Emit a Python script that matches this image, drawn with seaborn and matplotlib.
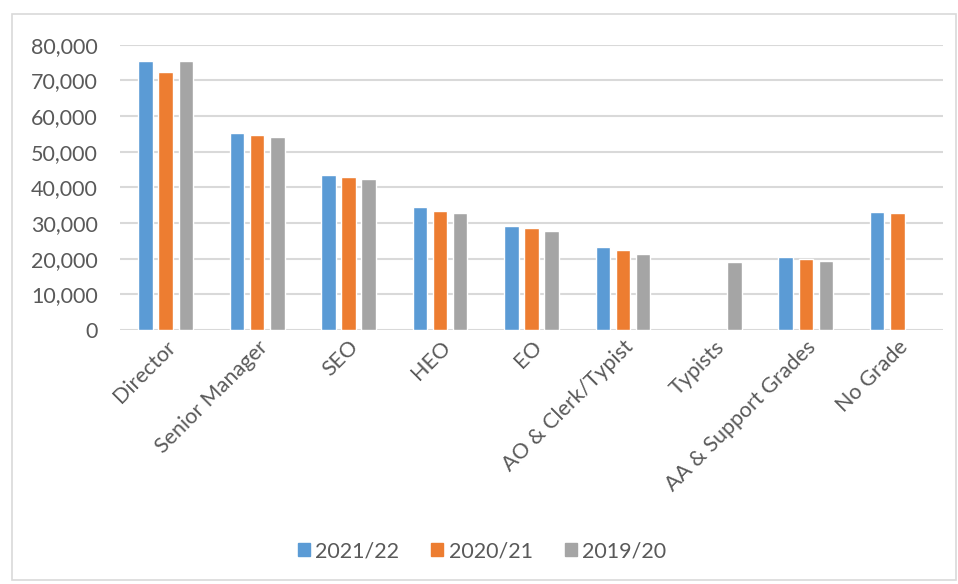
import numpy as np
import pandas as pd
import matplotlib
matplotlib.use("Agg")
import matplotlib.pyplot as plt
import seaborn as sns
from matplotlib.patches import Rectangle

categories = ["Director", "Senior Manager", "SEO", "HEO", "EO",
              "AO & Clerk/Typist", "Typists", "AA & Support Grades", "No Grade"]
series_names = ["2021/22", "2020/21", "2019/20"]
vals_2021_22 = [75500, 55300, 43600, 34600, 29200, 23200, np.nan, 20600, 33200]
vals_2020_21 = [72300, 54800, 43000, 33500, 28500, 22400, np.nan, 20000, 32900]
vals_2019_20 = [75500, 54200, 42300, 32900, 27900, 21300, 19100, 19300, np.nan]
yticks = [0, 10000, 20000, 30000, 40000, 50000, 60000, 70000, 80000]
colors = ["#5B9BD5", "#ED7D31", "#A5A5A5"]

rows = []
for name, vals in zip(series_names, [vals_2021_22, vals_2020_21, vals_2019_20]):
    for c, v in zip(categories, vals):
        if not np.isnan(v):
            rows.append({"grade": c, "year": name, "value": v})
df = pd.DataFrame(rows)

sns.set_theme(style="white")
plt.rcParams["font.family"] = ["Lato", "DejaVu Sans"]
FS = 15.5

fig = plt.figure(figsize=(9.58, 5.84), dpi=100)
ax = fig.add_axes([120/958, 1 - 330/584, (943-120)/958, (330-44.7)/584])

sns.barplot(data=df, x="grade", y="value", hue="year", order=categories,
            hue_order=series_names, palette=colors, width=0.66, gap=0.28,
            ax=ax, saturation=1, errorbar=None, zorder=3)

ax.set_ylim(0, 80000)
ax.set_yticks(yticks)
ax.set_yticklabels([f"{t:,}" for t in yticks], color="#595959", fontsize=FS)
ax.set_xlim(-0.5, len(categories) - 0.5)
ax.set_xticks(range(len(categories)))
ax.set_xticklabels(categories, rotation=45, ha="right", rotation_mode="anchor",
                   color="#595959", fontsize=FS)
ax.tick_params(axis="both", length=0)
ax.tick_params(axis="x", pad=5)
ax.tick_params(axis="y", pad=16)
ax.set_xlabel("")
ax.set_ylabel("")
ax.yaxis.grid(True, color="#D9D9D9", linewidth=1.5, zorder=0)
ax.set_axisbelow(True)
for s in ax.spines.values():
    s.set_visible(False)

ax.legend_.remove()
handles = [plt.Rectangle((0, 0), 1, 1, color=c) for c in colors]
fig.legend(handles, series_names, loc="center", bbox_to_anchor=(482/958, 1 - 551/584),
           ncol=3, frameon=False, fontsize=FS, handlelength=0.55, handleheight=0.55,
           handletextpad=0.25, columnspacing=1.5, labelcolor="#595959")

fig.patches.append(Rectangle((12/958, 4/584), (956-12)/958, (570-4)/584,
                             transform=fig.transFigure, fill=False,
                             edgecolor="#D9D9D9", linewidth=1.2))

fig.savefig("out.png", dpi=100)
